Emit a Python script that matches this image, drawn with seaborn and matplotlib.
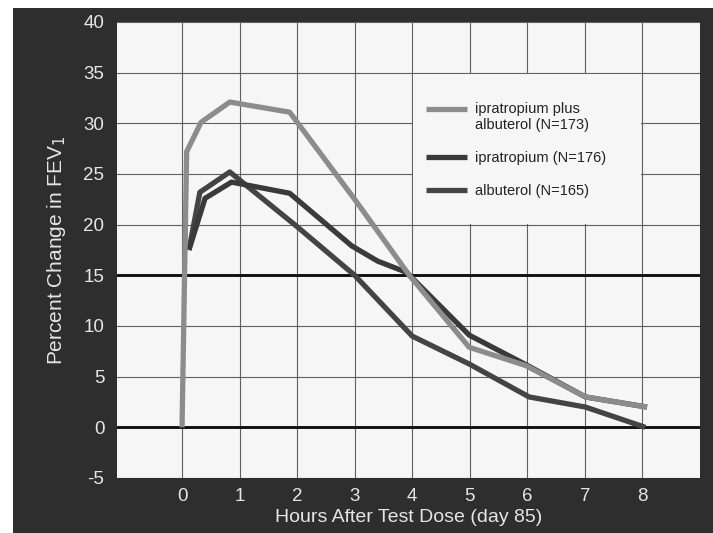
import matplotlib
matplotlib.use("Agg")
import matplotlib.pyplot as plt
from matplotlib.patches import Rectangle
from matplotlib.lines import Line2D
from matplotlib.legend_handler import HandlerLine2D
import seaborn as sns
import pandas as pd

# ---- data ----
combo_hours = [0.0, 0.08, 0.33, 0.83, 1.87, 3.0, 3.95, 4.99, 5.97, 7.01, 8.08]
combo_vals = [0.0, 27.2, 30.1, 32.1, 31.1, 22.5, 15.0, 7.9, 6.1, 3.0, 2.0]

iprat_hours = [0.12, 0.40, 0.86, 1.87, 2.95, 3.4, 3.9, 4.99, 5.97, 7.01, 8.08]
iprat_vals = [17.5, 22.6, 24.2, 23.1, 17.9, 16.4, 15.3, 9.1, 6.2, 3.0, 2.0]

albut_hours = [0.12, 0.31, 0.83, 2.0, 3.0, 4.0, 4.99, 6.03, 7.01, 8.05]
albut_vals = [17.5, 23.2, 25.2, 19.8, 15.0, 9.0, 6.25, 3.0, 2.0, 0.0]

labels = ["ipratropium plus\nalbuterol (N=173)", "ipratropium (N=176)", "albuterol (N=165)"]
colors = ["#8c8c8c", "#3a3a3a", "#444444"]

x_ticks = [0, 1, 2, 3, 4, 5, 6, 7, 8]
y_ticks = [-5, 0, 5, 10, 15, 20, 25, 30, 35, 40]
bold_lines = [0, 15]

df = pd.concat([
    pd.DataFrame({"hours": combo_hours, "change": combo_vals, "treatment": labels[0]}),
    pd.DataFrame({"hours": iprat_hours, "change": iprat_vals, "treatment": labels[1]}),
    pd.DataFrame({"hours": albut_hours, "change": albut_vals, "treatment": labels[2]}),
], ignore_index=True)

sns.set_style("white")
plt.rcParams["font.family"] = ["Liberation Sans", "DejaVu Sans"]
plt.rcParams["axes.unicode_minus"] = False

W, H = 713, 533
fig = plt.figure(figsize=(W / 100, H / 100), dpi=100)
fig.patch.set_facecolor("white")
# dark backdrop
fig.patches.append(Rectangle((13 / W, 0), 1 - 13 / W, 1 - 8 / H, transform=fig.transFigure,
                             facecolor="#2e2e2e", edgecolor="none", zorder=-5))

ax = fig.add_axes([117 / W, 1 - 478 / H, (700 - 117) / W, (478 - 22) / H])
ax.set_zorder(2)
ax.set_facecolor("#f6f6f6")

palette = dict(zip(labels, colors))
order = [labels[2], labels[1], labels[0]]  # draw combo on top
sns.lineplot(data=df, x="hours", y="change", hue="treatment", hue_order=order,
             palette=palette, sort=False, estimator=None, linewidth=3.8,
             legend=False, ax=ax, zorder=4)
for ln in ax.lines:
    ln.set_solid_capstyle("butt")
    ln.set_solid_joinstyle("round")

ax.set_xlim(-1.13, 9.0)
ax.set_ylim(-5, 40)
ax.set_xticks(x_ticks)
ax.set_yticks(y_ticks)
ax.grid(True, color="#606060", linewidth=0.8, zorder=1)
ax.set_axisbelow(True)
for yb in bold_lines:
    ax.axhline(yb, color="#111111", linewidth=2.1, zorder=3)

# blank legend panel (no grid inside)
ax.add_patch(Rectangle((4.02, 20.1), 3.96, 14.8, facecolor="#f6f6f6",
                       edgecolor="none", zorder=2))

for s in ax.spines.values():
    s.set_visible(False)
ax.tick_params(axis="both", length=0, colors="#e6e6e6", labelsize=13.5)
ax.tick_params(axis="x", pad=7)
ax.tick_params(axis="y", pad=9)

ax.set_xlabel("Hours After Test Dose (day 85)", color="#e6e6e6", fontsize=14, labelpad=3)
ax.set_ylabel("Percent Change in FEV$_1$", color="#e6e6e6", fontsize=15, labelpad=11)


class FirstLineHandler(HandlerLine2D):
    """Place the swatch next to the first line of a two-line label."""
    def __init__(self, dy, **kw):
        super().__init__(**kw)
        self.dy = dy

    def create_artists(self, legend, orig_handle, xdescent, ydescent, width, height, fontsize, trans):
        arts = super().create_artists(legend, orig_handle, xdescent, ydescent, width, height, fontsize, trans)
        for a in arts:
            a.set_ydata([y + self.dy for y in a.get_ydata()])
        return arts


handles = [Line2D([], [], color=c, linewidth=3.8, solid_capstyle="butt") for c in colors]
leg = ax.legend(handles, labels, loc="upper left", bbox_to_anchor=(4.11, 32.8),
                bbox_transform=ax.transData, frameon=False, fontsize=10.5,
                handlelength=2.8, handletextpad=0.6, labelspacing=1.3, borderpad=0,
                handler_map={handles[0]: FirstLineHandler(dy=6.0)})
for t in leg.get_texts():
    t.set_color("#222222")
leg.set_zorder(5)

fig.savefig("out.png", dpi=100, facecolor=fig.get_facecolor())
